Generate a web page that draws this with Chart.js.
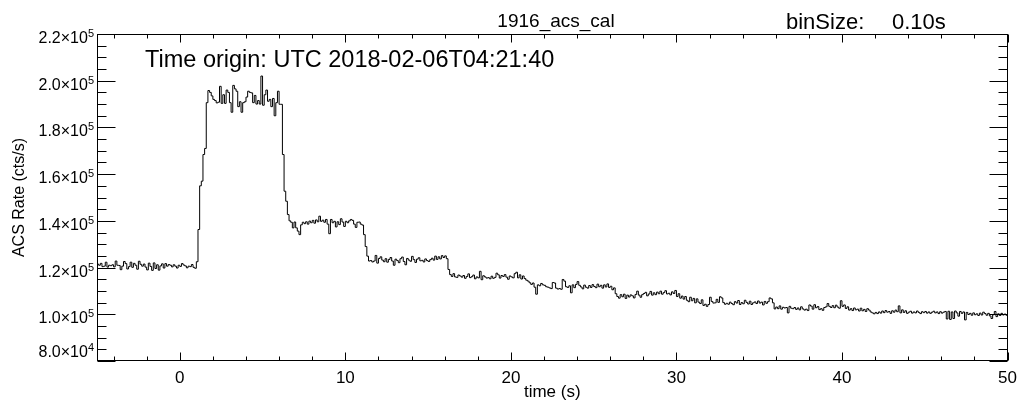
<!DOCTYPE html>
<html>
<head>
<meta charset="utf-8">
<script src="https://cdn.jsdelivr.net/npm/chart.js@4.4.1/dist/chart.umd.min.js"></script>
<style>
html, body { margin: 0; padding: 0; background: #fff; }
#wrap { width: 1024px; height: 403px; }
</style>
</head>
<body>
<div id="wrap"><canvas id="lc" width="1024" height="403"></canvas></div>
<script>
// ACS light curve, 0.1 s bins, first bin starts at t = -5.0 s
// rates below are in units of 1000 cts/s, one line = one second
const BIN_START = -5.0;
const BIN_SIZE = 0.1;

// -5.0 .. 0.9 s : background before the burst
const rateBefore = [
    121.5, 121.0, 121.8, 120.4, 120.6, 122.3, 120.2, 121.0, 120.8, 121.2,
    120.3, 122.8, 121.0, 120.9, 119.1, 120.6, 122.6, 121.7, 119.4, 120.4,
    122.3, 120.1, 121.8, 121.0, 119.3, 122.7, 121.4, 120.6, 121.5, 120.2,
    119.0, 121.9, 120.5, 118.8, 122.0, 119.6, 121.2, 118.9, 120.7, 121.6,
    119.8, 121.7, 120.6, 121.3, 121.0, 120.3, 121.2, 120.6, 119.8, 121.0,
    120.5, 121.7, 121.1, 120.7, 119.9, 120.6, 120.4, 121.3, 120.1, 119.7
];

// 1.0 .. 6.9 s : main pulse
const ratePeak = [
    122.5, 136.3, 155.0, 157.0, 168.4, 171.0, 190.6, 195.8, 195.0, 193.5,
    192.0, 191.5, 190.5, 190.8, 197.6, 190.3, 194.0, 190.3, 196.0, 195.0,
    190.6, 186.5, 198.0, 196.5, 195.5, 188.9, 191.0, 186.5, 190.6, 191.0,
    193.0, 195.5, 195.0, 194.8, 190.6, 193.7, 190.0, 191.5, 190.0, 202.0,
    189.5, 194.0, 196.0, 191.2, 192.0, 188.9, 192.4, 185.0, 190.6, 195.5,
    189.9, 189.9, 168.4, 152.7, 148.4, 142.7, 140.0, 139.4, 137.0, 139.5
];

// 7.0 .. 16.9 s : shoulders
const rateShoulder = [
    137.0, 135.6, 134.1, 138.3, 139.4, 138.8, 139.6, 138.6, 139.9, 139.2,
    140.2, 139.0, 140.4, 139.6, 142.0, 139.8, 140.3, 139.4, 140.6, 138.6,
    134.5, 140.6, 139.2, 139.8, 137.4, 139.6, 138.4, 140.9, 139.5, 137.6,
    139.8, 139.2, 140.0, 140.6, 140.2, 138.6, 137.2, 139.4, 139.5, 138.6,
    138.2, 134.1, 129.0, 124.9, 122.8, 123.0, 122.4, 122.8, 125.2, 121.9,
    123.9, 124.6, 123.2, 122.5, 123.8, 122.3, 123.5, 124.3, 122.8, 121.0,
    123.6, 123.0, 122.1, 123.8, 124.5, 122.6, 121.2, 123.9, 123.2, 122.7,
    124.8, 123.4, 122.2, 123.6, 124.2, 122.9, 123.1, 122.4, 123.7, 123.0,
    122.6, 123.4, 124.0, 123.2, 124.9, 123.5, 124.6, 123.7, 125.1, 124.3,
    125.0, 123.8, 119.2, 117.0, 116.2, 117.4, 116.0, 115.8, 116.8, 116.4
];

// 17.0 .. 49.9 s : slow decline
const rateTail = [
    115.9, 116.6, 115.4, 116.2, 117.3, 115.7, 116.1, 116.8, 115.2, 116.0,
    115.6, 118.4, 114.8, 116.5, 116.0, 115.5, 115.7, 115.2, 116.3, 115.4,
    115.8, 117.6, 116.9, 115.5, 116.6, 116.2, 117.0, 115.9, 115.0, 116.4,
    116.0, 115.6, 117.4, 118.0, 115.6, 116.9, 115.1, 116.4, 115.3, 114.6,
    114.2, 113.5, 112.8, 113.4, 111.6, 108.6, 112.6, 112.2, 113.2, 112.6,
    112.4, 111.8, 111.6, 111.3, 111.0, 113.6, 113.4, 111.2, 110.8, 111.0,
    110.7, 114.9, 114.2, 111.8, 111.5, 112.2, 109.2, 112.6, 111.4, 112.8,
    114.0, 112.4, 111.7, 110.9, 112.5, 111.6, 111.2, 112.3, 111.5, 112.7,
    111.9, 111.4, 112.9, 111.8, 112.4, 111.2, 112.6, 111.7, 113.0, 111.5,
    112.0, 110.5, 111.3, 108.8, 107.6, 106.9, 108.4, 107.5, 108.6, 106.8,
    108.2, 107.4, 108.3, 107.9, 107.0, 108.5, 109.9, 108.2, 107.3, 108.4,
    108.9, 109.4, 107.9, 108.7, 109.8, 108.2, 109.2, 108.4, 109.5, 108.8,
    109.9, 108.6, 109.3, 110.1, 108.7, 109.0, 108.3, 109.6, 108.9, 110.2,
    107.6, 108.8, 106.9, 107.8, 106.5, 107.6, 106.0, 105.4, 107.3, 105.8,
    106.8, 104.9, 106.6, 105.2, 104.6, 106.2, 103.8, 104.3, 103.4, 104.2,
    107.3, 105.5, 104.8, 104.9, 106.4, 105.1, 107.5, 107.0, 105.0, 104.3,
    104.7, 104.3, 105.2, 104.6, 104.1, 105.4, 104.8, 105.9, 104.2, 105.0,
    104.5, 106.0, 105.1, 104.4, 105.6, 104.2, 104.9, 105.3, 104.6, 105.7,
    104.8, 105.2, 104.0, 105.5, 104.7, 105.4, 107.0, 106.6, 104.9, 102.3,
    103.1, 102.4, 103.6, 102.2, 103.0, 102.7, 102.9, 100.6, 103.4, 102.6,
    102.4, 102.9, 102.1, 102.7, 101.9, 103.2, 102.3, 101.8, 102.2, 101.6,
    104.0, 103.5, 102.2, 104.1, 102.8, 103.3, 102.0, 102.4, 101.7, 102.9,
    103.2, 104.6, 103.4, 102.9, 103.7, 102.8, 103.9, 103.1, 102.6, 105.8,
    103.4, 104.0, 102.5, 103.2, 101.8, 102.4, 101.6, 102.7, 101.9, 102.2,
    101.4, 102.6, 101.5, 102.1, 101.2, 102.4, 101.8, 101.0, 100.6, 100.2,
    100.8, 100.3, 101.0, 100.5, 101.4, 100.7, 101.6, 100.9, 101.2, 100.4,
    101.5, 100.9, 101.8, 101.1, 103.6, 100.6, 101.9, 100.8, 101.5, 100.4,
    100.9, 101.3, 100.5, 101.0, 100.6, 101.4, 100.8, 100.3, 101.1, 100.7,
    101.2, 100.5, 101.0, 100.4, 100.9, 101.3, 100.6, 101.0, 100.3, 101.1,
    100.5, 100.9, 101.2, 98.0, 101.3, 97.8, 101.0, 98.2, 101.4, 100.6,
    99.2, 101.2, 100.4, 101.0, 97.6, 100.8, 99.9, 100.4, 99.6, 100.6,
    99.8, 100.2, 99.5, 100.5, 99.7, 100.9, 100.3, 99.6, 100.4, 99.3,
    98.2, 99.8, 101.2, 99.0, 100.2, 99.5, 100.4, 99.7, 100.1, 99.6
];

// axis setup
const X_MIN = -5, X_MAX = 50;
const Y_MIN = 80000, Y_MAX = 220000;
const xMajorTicks = [0, 10, 20, 30, 40, 50];
const xMinorStep = 2;
const yMajorTicks = [80000, 100000, 120000, 140000, 160000, 180000, 200000, 220000];
const yMinorStep = 5000;

const titleText = '1916_acs_cal';
const binText = ['binSize:', '0.10s'];
const originText = 'Time origin: UTC 2018-02-06T04:21:40';

// build histogram points (value held from bin start to next bin start)
const rates = rateBefore.concat(ratePeak, rateShoulder, rateTail);
const points = rates.map((r, i) => ({
    x: +(BIN_START + i * BIN_SIZE).toFixed(1),
    y: r * 1000
}));
points.push({ x: BIN_START + rates.length * BIN_SIZE, y: rates[rates.length - 1] * 1000 });

// 2.2e5 -> ['2.2×10', '5']
const sciParts = (v) => {
    const e = Math.floor(Math.log10(v) + 1e-9);
    const m = (v / Math.pow(10, e)).toFixed(1);
    return [m + '\u00d710', String(e)];
};

const SANS = '"Liberation Sans", Arial, Helvetica, sans-serif';
const NARROW = '"Liberation Sans Narrow", "Arial Narrow", "Liberation Sans", sans-serif';

// box, inward ticks, y labels with real superscripts and the header texts
const framePlugin = {
    id: 'framePlugin',
    afterDraw(chart) {
        const { ctx, chartArea: a, scales: { x, y } } = chart;
        const L = Math.round(a.left) + 0.5, R = Math.round(a.right) - 0.5;
        const T = Math.round(a.top) + 0.5, B = Math.round(a.bottom) - 0.5;
        ctx.save();
        ctx.strokeStyle = '#000';
        ctx.lineWidth = 1;
        ctx.strokeRect(L, T, R - L, B - T);
        ctx.beginPath();
        // x ticks, bottom and top
        for (let v = -4; v <= X_MAX; v += xMinorStep) {
            const px = Math.round(x.getPixelForValue(v)) + 0.5;
            const len = xMajorTicks.includes(v) ? 8 : 4;
            ctx.moveTo(px, B); ctx.lineTo(px, B - len);
            ctx.moveTo(px, T); ctx.lineTo(px, T + len);
        }
        // y ticks, left and right
        for (let v = Y_MIN; v <= Y_MAX; v += yMinorStep) {
            const py = Math.round(y.getPixelForValue(v)) + 0.5;
            const len = yMajorTicks.includes(v) ? 18 : 9;
            ctx.moveTo(L, py); ctx.lineTo(L + len, py);
            ctx.moveTo(R, py); ctx.lineTo(R - len, py);
        }
        ctx.stroke();

        ctx.fillStyle = '#000';
        ctx.textBaseline = 'alphabetic';

        // y tick labels
        const labRight = a.left - 3;
        y.ticks.forEach((t) => {
            const [mant, ex] = sciParts(t.value);
            const py = y.getPixelForValue(t.value);
            const base = t.value === Y_MIN ? py - 4 : py + 9;
            ctx.font = '11px ' + SANS;
            const ew = ctx.measureText(ex).width;
            ctx.textAlign = 'left';
            ctx.fillText(ex, labRight - ew, base - 6);
            ctx.font = '16px ' + SANS;
            ctx.textAlign = 'right';
            ctx.fillText(mant, labRight - ew, base);
        });

        ctx.font = '19px ' + SANS;
        ctx.textAlign = 'center';
        ctx.fillText(titleText, 556, 27);
        ctx.textAlign = 'left';
        ctx.font = '22px ' + SANS;
        ctx.fillText(binText[0], 786, 29);
        ctx.fillText(binText[1], 892, 29);
        ctx.font = '23.5px ' + SANS;
        ctx.fillText(originText, 145, 67);
        ctx.restore();
    }
};

new Chart(document.getElementById('lc'), {
    type: 'line',
    data: {
        datasets: [{
            data: points,
            borderColor: '#000',
            borderWidth: 1,
            pointRadius: 0,
            stepped: true,
            fill: false,
            tension: 0
        }]
    },
    options: {
        responsive: false,
        animation: false,
        layout: { padding: { top: 34, right: 13, bottom: 0, left: 0 } },
        plugins: {
            legend: { display: false },
            tooltip: { enabled: false }
        },
        scales: {
            x: {
                type: 'linear',
                min: X_MIN,
                max: X_MAX,
                afterFit(s) { s.height = 42; },
                grid: { display: false, drawTicks: false },
                border: { display: false },
                ticks: {
                    stepSize: 10,
                    includeBounds: false,
                    padding: 7,
                    maxRotation: 0,
                    color: '#000',
                    font: { family: NARROW, size: 17 }
                },
                title: {
                    display: true,
                    text: 'time (s)',
                    color: '#000',
                    font: { family: NARROW, size: 17 },
                    padding: { top: 0, bottom: 0 }
                }
            },
            y: {
                type: 'linear',
                min: Y_MIN,
                max: Y_MAX,
                afterFit(s) { s.width = 97; },
                grid: { display: false, drawTicks: false },
                border: { display: false },
                ticks: {
                    stepSize: 20000,
                    display: false
                },
                title: {
                    display: true,
                    text: 'ACS Rate (cts/s)',
                    color: '#000',
                    font: { family: SANS, size: 16 },
                    padding: { top: 10, bottom: 0 }
                }
            }
        }
    },
    plugins: [framePlugin]
});
</script>
</body>
</html>
